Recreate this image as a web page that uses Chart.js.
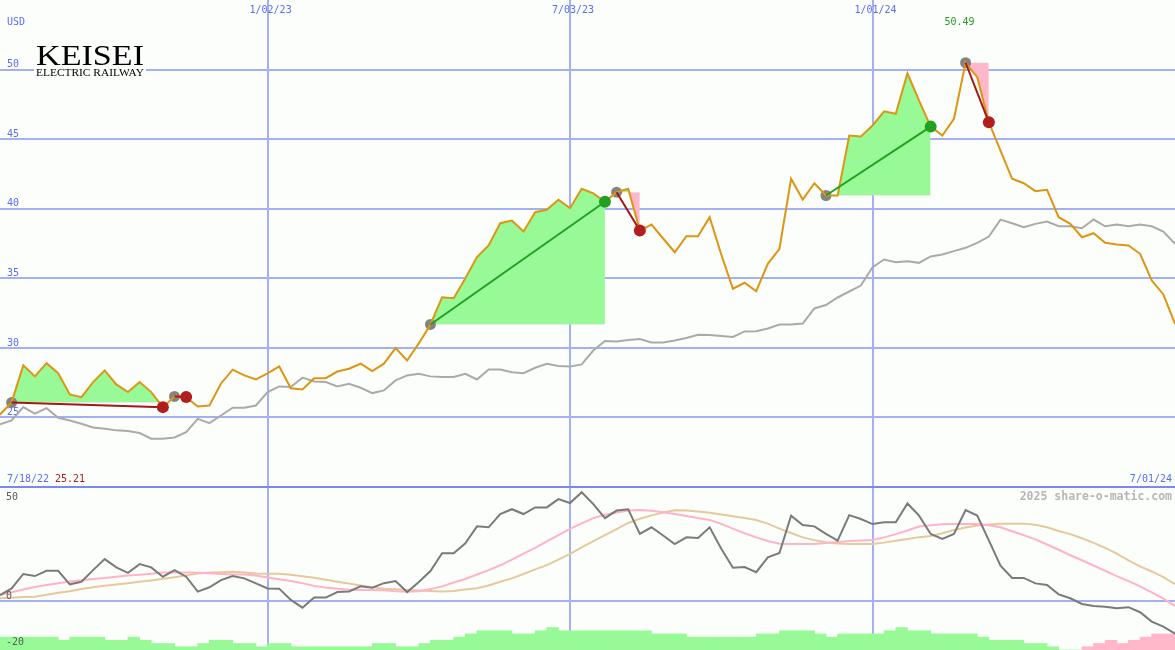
<!DOCTYPE html>
<html><head><meta charset="utf-8">
<script src="https://cdn.jsdelivr.net/npm/chart.js@4.4.1/dist/chart.umd.min.js"></script>
<style>
html,body{margin:0;padding:0;background:#fcfefc;}
#wrap{position:relative;width:1175px;height:650px;overflow:hidden;background:#fcfefc;}
#c1{position:absolute;left:0;top:0;}
#c2{position:absolute;left:0;top:487px;}
#sep{position:absolute;left:0;top:486px;width:1175px;height:2px;background:#7b88f0;}
</style></head><body>
<div id="wrap">
<canvas id="c1" width="1175" height="487"></canvas>
<canvas id="c2" width="1175" height="163"></canvas>
<div id="sep"></div>
</div>
<script>
// ---- data (weekly points, index 0 = first week shown) ----
const price = [25.21, 26.08, 28.74, 27.95, 28.9, 28.18, 26.65, 26.46, 27.54, 28.38,
 27.37, 26.82, 27.54, 26.82, 25.74, 26.51, 26.46, 25.79, 25.86, 27.44,
 28.43, 28.02, 27.73, 28.16, 28.66, 27.1, 27.01, 27.82, 27.82, 28.3,
 28.5, 28.86, 28.33, 28.86, 29.98, 29.09, 30.32, 31.68, 33.64, 33.57,
 35.0, 36.52, 37.36, 38.96, 39.15, 38.36, 39.75, 39.92, 40.64, 40.04,
 41.43, 41.1, 40.5, 41.19, 41.43, 38.43, 38.86, 37.86, 36.87, 38.02,
 38.02, 39.39, 36.7, 34.25, 34.68, 34.07, 36.04, 37.12, 42.15, 40.66,
 41.83, 40.95, 40.95, 45.26, 45.19, 45.98, 47.0, 46.82, 49.73, 47.77,
 45.9, 45.26, 46.46, 50.49, 49.45, 46.21, 44.18, 42.15, 41.83, 41.26,
 41.36, 39.39, 38.91, 37.95, 38.24, 37.55, 37.43, 37.36, 36.76, 34.84,
 33.84, 31.73];
const movingAvg = [24.5, 24.78, 25.74, 25.27, 25.67, 24.98, 24.78, 24.55, 24.28, 24.19,
 24.07, 24.02, 23.88, 23.47, 23.47, 23.56, 23.94, 24.9, 24.59, 25.14,
 25.7, 25.7, 25.86, 26.82, 27.23, 27.18, 27.86, 27.59, 27.54, 27.23,
 27.42, 27.13, 26.75, 26.94, 27.66, 28.02, 28.14, 27.95, 27.9, 27.9,
 28.14, 27.73, 28.45, 28.45, 28.25, 28.18, 28.57, 28.86, 28.69, 28.66,
 28.81, 29.81, 30.5, 30.46, 30.57, 30.64, 30.39, 30.39, 30.53, 30.71,
 30.94, 30.93, 30.85, 30.78, 31.18, 31.2, 31.39, 31.68, 31.68, 31.75,
 32.83, 33.08, 33.62, 34.05, 34.48, 35.8, 36.35, 36.16, 36.23, 36.11,
 36.57, 36.71, 36.95, 37.19, 37.55, 38.0, 39.22, 38.96, 38.67, 38.91,
 39.08, 38.74, 38.74, 38.6, 39.22, 38.74, 38.86, 38.74, 38.86, 38.74,
 38.36, 37.48];
const momentum = [2.8, 5.7, 12.0, 11.1, 13.4, 13.4, 7.5, 8.6, 13.7, 18.5,
 14.9, 12.5, 16.3, 14.9, 10.8, 13.7, 10.8, 4.3, 6.2, 9.3,
 11.1, 10.1, 7.9, 5.7, 5.6, 0.7, -2.7, 1.7, 1.7, 4.1,
 4.4, 6.6, 6.0, 8.0, 8.9, 4.1, 8.5, 13.3, 21.1, 21.1,
 25.4, 32.8, 32.4, 38.2, 40.3, 38.2, 41.1, 41.1, 44.7, 43.0,
 47.7, 42.5, 36.4, 39.7, 40.3, 29.5, 32.4, 28.8, 25.1, 28.0,
 27.7, 32.4, 23.0, 14.7, 15.0, 12.8, 19.3, 21.2, 37.5, 33.4,
 32.8, 29.5, 26.6, 37.7, 36.0, 33.8, 34.6, 34.6, 42.8, 37.5,
 29.5, 27.3, 29.5, 39.9, 37.5, 26.7, 15.6, 10.3, 10.3, 7.9,
 7.2, 3.1, 1.4, -1.1, -2.0, -2.3, -3.0, -2.5, -4.7, -8.8,
 -11.0, -14.1];
const fastSignal = [2.8, 4.0, 5.2, 6.3, 7.2, 8.0, 8.7, 9.3, 9.8, 10.3,
 10.8, 11.3, 11.7, 12.1, 12.6, 12.7, 12.6, 12.5, 12.3, 12.0,
 11.8, 11.8, 11.3, 10.5, 9.7, 8.9, 8.0, 6.8, 6.1, 5.6,
 5.1, 5.0, 5.0, 4.9, 4.5, 4.2, 4.5, 5.4, 6.6, 8.3,
 9.8, 11.8, 13.7, 15.8, 18.3, 20.9, 23.4, 26.2, 29.0, 31.7,
 34.1, 36.4, 37.9, 38.9, 39.7, 39.9, 39.6, 39.0, 38.2, 37.3,
 36.5, 35.6, 33.9, 31.8, 29.8, 28.0, 26.4, 25.2, 25.1, 25.1,
 25.1, 25.5, 26.0, 26.4, 26.6, 26.9, 28.0, 29.4, 31.0, 32.7,
 33.3, 33.7, 33.8, 33.8, 33.8, 33.3, 32.4, 30.7, 29.0, 27.1,
 24.9, 22.6, 20.2, 18.0, 15.7, 13.4, 11.1, 8.9, 6.6, 4.0,
 1.2, -2.0];
const slowSignal = [1.4, 1.6, 1.9, 2.1, 2.9, 3.8, 4.5, 5.4, 6.2, 6.9,
 7.4, 8.0, 8.6, 9.2, 9.9, 10.6, 11.4, 12.2, 12.6, 12.8,
 13.0, 12.6, 12.2, 12.1, 12.1, 11.7, 11.0, 10.4, 9.5, 8.6,
 7.8, 7.0, 6.2, 5.6, 5.3, 5.0, 4.8, 4.6, 4.4, 4.6,
 5.2, 5.8, 7.0, 8.6, 10.1, 12.0, 14.0, 15.9, 18.3, 20.8,
 23.6, 26.4, 29.0, 31.6, 34.3, 36.1, 37.6, 38.9, 39.8, 39.7,
 39.3, 38.8, 38.0, 37.2, 36.5, 35.6, 34.0, 31.8, 29.9, 28.0,
 26.8, 25.9, 25.3, 25.1, 25.1, 25.1, 25.7, 26.5, 27.3, 28.1,
 28.6, 29.8, 31.2, 32.3, 33.2, 33.6, 33.9, 34.0, 34.0, 33.5,
 32.4, 30.8, 29.4, 27.6, 25.6, 23.4, 20.9, 18.0, 15.3, 13.1,
 10.6, 7.6];
const histogram = [4,4,4,4,4,3,4,4,4,3,
 3,4,3,2,2,1,1,2,3,3,
 2,2,1,2,2,1,1,1,1,1,
 1,1,2,2,1,1,2,3,3,4,
 5,6,6,6,5,5,6,7,6,6,
 6,6,6,6,6,6,5,5,5,4,
 4,4,4,4,4,5,5,6,6,6,
 5,4,5,5,5,5,6,7,6,6,
 5,5,5,5,4,3,3,3,2,2,
 1,0,0,-1,-2,-3,-2,-3,-4,-5,
 -5];
const trendStart = [1, 15, 37, 53, 71, 83];
const trendEnd   = [14, 16, 52, 55, 80, 85];
const dateTicks  = [23, 49, 75];
const dateLabels = ['1/02/23', '7/03/23', '1/01/24'];
const priceTicks = [25, 30, 35, 40, 45, 50];
const lowerTicks = [50, 0, -20];
const firstDate = '7/18/22', firstValue = '25.21', lastDate = '7/01/24', peakLabel = '50.49', peakIndex = 83;

// ---- styles ----
const BG = '#fcfefc', GRID = '#a4b0f4', BLUE = '#5b6ef0';
const MONO = '"DejaVu Sans Mono", monospace';
const FILL_UP = '#97fa97', FILL_DOWN = '#ffb7c9';
const pt = (k, v) => ({x: k, y: v});

const xScale = () => ({
  type: 'linear', min: 0, max: price.length - 1, offset: false, position: 'bottom',
  afterFit(s) { s.height = 0; },
  afterBuildTicks(s) { s.ticks = dateTicks.map(v => ({value: v})); },
  ticks: {display: false}, border: {display: false},
  grid: {color: GRID, lineWidth: 2, drawTicks: false, offset: false}
});

const common = {
  responsive: false, animation: false, events: [],
  layout: {padding: 0, autoPadding: false},
  plugins: {legend: {display: false}, tooltip: {enabled: false}},
  elements: {line: {tension: 0}, point: {radius: 0, hoverRadius: 0}}
};

// ---- upper chart ----
const ds1 = [];
trendEnd.forEach((e, i) => {
  const s = trendStart[i], up = price[e] >= price[s];
  ds1.push({data: [pt(e, price[e])], showLine: false, pointRadius: 6, pointHoverRadius: 6,
    pointBackgroundColor: up ? '#22a022' : '#b01e1e', pointBorderWidth: 0, order: 0});
  ds1.push({data: [pt(s, price[s]), pt(e, price[e])], borderColor: up ? '#22a022' : '#a01818',
    borderWidth: 2, pointRadius: 0, order: 1});
});
ds1.push({data: price.map((v, k) => pt(k, v)), borderColor: '#dc9612', borderWidth: 2, pointRadius: 0, order: 2});
ds1.push({data: trendStart.map(k => pt(k, price[k])), showLine: false, pointRadius: 5.5, pointHoverRadius: 5.5,
  pointBackgroundColor: '#838383', pointBorderWidth: 0, order: 2.5});
ds1.push({data: movingAvg.map((v, k) => pt(k, v)), borderColor: '#aaaaaa', borderWidth: 2, pointRadius: 0, order: 3});
trendStart.forEach((s, i) => {
  const e = trendEnd[i], level = price[s], ks = [];
  for (let k = s; k <= e; k++) ks.push(k);
  const baseIdx = ds1.length;
  ds1.push({data: ks.map(k => pt(k, level)), borderWidth: 0, borderColor: 'rgba(0,0,0,0)', pointRadius: 0, fill: false, order: 6});
  ds1.push({data: ks.map(k => pt(k, price[k])), borderWidth: 0, borderColor: 'rgba(0,0,0,0)', pointRadius: 0,
    fill: {target: baseIdx, above: FILL_UP, below: FILL_DOWN}, order: 5});
});

const upperText = {
  id: 'upperText',
  beforeDatasetsDraw(chart) {
    const ctx = chart.ctx, xs = chart.scales.x, ys = chart.scales.y;
    ctx.save();
    ctx.font = '10px ' + MONO; ctx.fillStyle = BLUE; ctx.textBaseline = 'alphabetic';
    ctx.textAlign = 'left';
    ctx.fillText('USD', 7, 25);
    priceTicks.forEach(v => ctx.fillText(String(v), 7, ys.getPixelForValue(v) - 2.3));
    ctx.textAlign = 'center';
    dateTicks.forEach((k, i) => ctx.fillText(dateLabels[i], xs.getPixelForValue(k) + 3, 13));
    ctx.textAlign = 'left';
    ctx.fillText(firstDate, 7, 482);
    ctx.fillStyle = '#a82020'; ctx.fillText(firstValue, 55, 482);
    ctx.fillStyle = BLUE; ctx.textAlign = 'right'; ctx.fillText(lastDate, 1172, 482);
    ctx.textAlign = 'center'; ctx.fillStyle = '#239a23';
    ctx.fillText(peakLabel, xs.getPixelForValue(peakIndex) - 6, 25);
    // logo
    ctx.fillStyle = BG; ctx.fillRect(34, 40, 112, 39);
    ctx.fillStyle = '#000'; ctx.textAlign = 'left';
    ctx.font = '30px "Liberation Serif", serif';
    let w = ctx.measureText('KEISEI').width;
    ctx.save(); ctx.translate(36, 65); ctx.scale(108 / w, 1); ctx.fillText('KEISEI', 0, 0); ctx.restore();
    ctx.font = '10px "Liberation Serif", serif';
    w = ctx.measureText('ELECTRIC RAILWAY').width;
    ctx.save(); ctx.translate(36, 76); ctx.scale(108 / w, 1); ctx.fillText('ELECTRIC RAILWAY', 0, 0); ctx.restore();
    ctx.restore();
  }
};

new Chart(document.getElementById('c1'), {
  type: 'line',
  data: {datasets: ds1},
  options: Object.assign({}, common, {
    scales: {
      x: xScale(),
      y: {type: 'linear', min: 20, max: 55, position: 'left',
        afterFit(s) { s.width = 0; },
        afterBuildTicks(s) { s.ticks = priceTicks.map(v => ({value: v})); },
        ticks: {display: false}, border: {display: false},
        grid: {color: GRID, lineWidth: 2, drawTicks: false}}
    }
  }),
  plugins: [upperText]
});

// ---- lower chart ----
const lowerText = {
  id: 'lowerText',
  afterDatasetsDraw(chart) {
    const ctx = chart.ctx, ys = chart.scales.y;
    ctx.save();
    ctx.font = '10px ' + MONO; ctx.fillStyle = '#5a5a5a'; ctx.textAlign = 'left'; ctx.textBaseline = 'alphabetic';
    lowerTicks.forEach(v => {
      const y = Math.min(Math.max(ys.getPixelForValue(v) - 2.3, 12.5), 161);
      ctx.fillText(String(v), 6, y);
    });
    ctx.font = 'bold 11.5px ' + MONO; ctx.fillStyle = '#b6b6b6'; ctx.textAlign = 'right';
    ctx.fillText('2025 share-o-matic.com', 1172, 13);
    ctx.restore();
  }
};

new Chart(document.getElementById('c2'), {
  type: 'line',
  data: {datasets: [
    {data: momentum.map((v, k) => pt(k, v)), borderColor: '#7a7a7a', borderWidth: 2, pointRadius: 0, order: 1},
    {data: fastSignal.map((v, k) => pt(k, v)), borderColor: '#ffb3c8', borderWidth: 2, pointRadius: 0, order: 2},
    {data: slowSignal.map((v, k) => pt(k, v)), borderColor: '#e6c99a', borderWidth: 2, pointRadius: 0, order: 3},
    {type: 'bar', yAxisID: 'yh', data: histogram.map((v, k) => pt(k + 0.5, Math.abs(v))),
      backgroundColor: histogram.map(v => v >= 0 ? FILL_UP : FILL_DOWN), borderWidth: 0,
      barPercentage: 1, categoryPercentage: 1, inflateAmount: 0.4, order: 4}
  ]},
  options: Object.assign({}, common, {
    scales: {
      x: xScale(),
      y: {type: 'linear', min: -21.2, max: 50, position: 'left',
        afterFit(s) { s.width = 0; },
        afterBuildTicks(s) { s.ticks = [{value: 0}]; },
        ticks: {display: false}, border: {display: false},
        grid: {color: GRID, lineWidth: 2, drawTicks: false}},
      yh: {type: 'linear', min: 0, max: 163 / 3.2, display: false}
    }
  }),
  plugins: [lowerText]
});
</script>
</body></html>
